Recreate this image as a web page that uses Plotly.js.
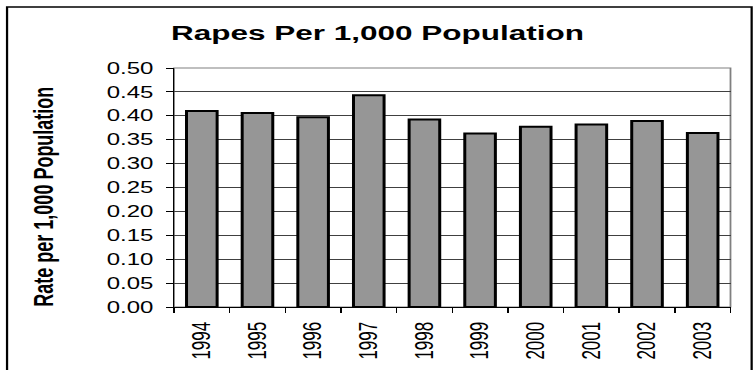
<!DOCTYPE html>
<html>
<head>
<meta charset="utf-8">
<script src="https://cdn.plot.ly/plotly-3.0.1.min.js"></script>
<style>
  html, body { margin: 0; padding: 0; background: #fff; overflow: hidden; }
  #wrap { width: 755px; height: 370px; overflow: hidden; }
  #chart { width: 503.33px; height: 370px; transform: scaleX(1.5); transform-origin: 0 0; }
</style>
</head>
<body>
<div id="wrap"><div id="chart"></div></div>
<script>
// Data
const years = ["1994", "1995", "1996", "1997", "1998", "1999", "2000", "2001", "2002", "2003"];
const rates = [0.410, 0.406, 0.397, 0.443, 0.392, 0.363, 0.377, 0.382, 0.389, 0.364];
const yTickValues = [0, 0.05, 0.10, 0.15, 0.20, 0.25, 0.30, 0.35, 0.40, 0.45, 0.50];
const chartTitle = "Rapes Per 1,000 Population";
const yTitle = "Rate per 1,000 Population";

const W = 503.33, H = 370;
const mL = 116, mR = W - 487, mT = 68, mB = H - 306.7;
const plotW = W - mL - mR, plotH = H - mT - mB;
const px2paperX = px => (px - mL) / plotW;
const py2paperY = py => (H - mB - py) / plotH;

const font = "Liberation Sans, Arial, Helvetica, sans-serif";

const trace = {
  type: "bar",
  x: years,
  y: rates,
  marker: { color: "#969696", line: { color: "#000000", width: 2 } },
  hoverinfo: "none"
};

const layout = {
  width: W, height: H,
  margin: { l: mL, r: mR, t: mT, b: mB, pad: 0 },
  paper_bgcolor: "#ffffff",
  plot_bgcolor: "#ffffff",
  showlegend: false,
  bargap: 0.45,
  font: { family: font, color: "#000" },
  title: {
    text: "<b>" + chartTitle + "</b>",
    font: { family: font, size: 21, color: "#000" },
    x: 0.5, xref: "container", xanchor: "center",
    y: 1 - 32.5 / H, yref: "container", yanchor: "middle"
  },
  xaxis: {
    type: "category",
    tickson: "boundaries",
    ticks: "outside", ticklen: 5, tickwidth: 1, tickcolor: "#000",
    tickangle: -90,
    tickfont: { family: font, size: 17, color: "#000" },
    ticklabelstandoff: 7,
    showline: true, linecolor: "#000", linewidth: 1,
    showgrid: false, zeroline: false, fixedrange: true
  },
  yaxis: {
    range: [0, 0.5],
    tickvals: yTickValues,
    tickformat: ".2f",
    ticks: "outside", ticklen: 4.5, tickwidth: 1, tickcolor: "#000",
    tickfont: { family: font, size: 16, color: "#000" },
    ticklabelstandoff: 5,
    showline: true, linecolor: "#000", linewidth: 1,
    showgrid: true, gridcolor: "#404040", gridwidth: 1,
    zeroline: false, fixedrange: true
  },
  shapes: [
    { type: "rect", xref: "paper", yref: "paper", x0: 0, x1: 1, y0: 0, y1: 1,
      line: { color: "#808080", width: 1.2 }, layer: "below" },
    { type: "rect", xref: "paper", yref: "paper",
      x0: px2paperX(4.7), x1: px2paperX(501.1), y0: py2paperY(378), y1: py2paperY(7),
      line: { color: "#000", width: 1.5 }, layer: "above" }
  ],
  annotations: [
    { text: "<b>" + yTitle + "</b>", xref: "paper", yref: "paper",
      x: px2paperX(29.5), y: py2paperY(197), xanchor: "center", yanchor: "middle",
      textangle: -90, showarrow: false,
      font: { family: font, size: 18, color: "#000" } }
  ]
};

Plotly.newPlot("chart", [trace], layout, { staticPlot: true, displayModeBar: false });
</script>
</body>
</html>
